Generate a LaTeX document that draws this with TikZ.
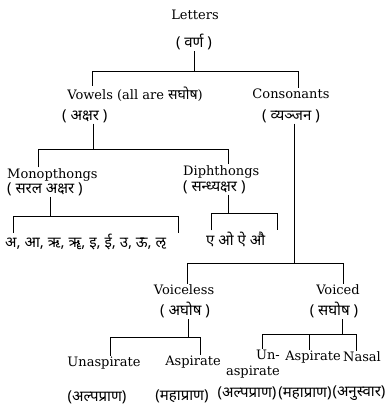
\documentclass[tikz,border=0pt]{standalone}
\usepackage{fontspec}
\setmainfont{DejaVu Serif}
\newfontfamily\dev[Script=Devanagari]{Noto Sans}
\tikzset{
  lbl/.style={inner sep=1pt, font=\fontsize{13}{16}\selectfont},
  hin/.style={inner sep=1pt, font=\fontsize{15}{17}\dev},
  hinlist/.style={inner sep=1pt, font=\fontsize{15}{17}\dev},
  tree/.style={line width=1pt}
}

\begin{document}
\begin{tikzpicture}[x=1pt,y=-1pt]
            \useasboundingbox (0,0) rectangle (389,408);

            % Top: letters
            \node[lbl] (letters) at (195,15) {Letters};
            \node[hin] (varna) at (194,42) {( वर्ण )};

            % Vowels and consonants
            \node[lbl] (vowels) at (135,94) {Vowels (all are {\dev\fontsize{14}{16}\selectfont सघोष})};
            \node[hin, anchor=west] (akshar) at (61,116) {( अक्षर )};
            \node[lbl] (consonants) at (291,94) {Consonants};
            \node[hin] (vyanjan) at (291,116) {( व्यञ्जन )};

            % Monopthongs and diphthongs
            \node[lbl, anchor=west] (mono) at (6,175) {Monopthongs};
            \node[hin, anchor=west] (saral) at (6,189) {( सरल अक्षर )};
            \node[lbl, anchor=west] (diph) at (182,172) {Diphthongs};
            \node[hin, anchor=west] (sandhy) at (182,187) {( सन्ध्यक्षर )};
            \node[hinlist, anchor=west] (monolist) at (4,242) {अ, आ, ऋ, ॠ, इ, ई, उ, ऊ, ऌ};
            \node[hinlist, anchor=west] (diphlist) at (205,239) {ए ओ ऐ औ};

            % Voiceless and voiced
            \node[lbl] (voiceless) at (184,290) {Voiceless};
            \node[hin] (aghosh) at (185,310) {( अघोष )};
            \node[lbl] (voiced) at (338,290) {Voiced};
            \node[hin] (saghosh) at (334,310) {( सघोष )};

            % Last row
            \node[lbl] (unasp) at (104,363) {Unaspirate};
            \node[lbl] (asp) at (193,362) {Aspirate};
            \node[lbl, align=right, anchor=north east] (unasp2) at (281,349) {Un-\\aspirate};
            \node[lbl] (asp2) at (313,357) {Aspirate};
            \node[lbl] (nasal) at (362,357) {Nasal};
            \node[hin] (alpa1) at (97,397) {(अल्पप्राण)};
            \node[hin] (maha1) at (182,396) {(महाप्राण)};
            \node[hin] (alpa2) at (247,393) {(अल्पप्राण)};
            \node[hin] (maha2) at (305,393) {(महाप्राण)};
            \node[hin] (anus) at (359,393) {(अनुस्वार)};

            % Bars
            \coordinate (bar1l) at (92,71);
            \coordinate (bar1r) at (298,71);
            \coordinate (bar2m) at (93,149);
            \coordinate (bar2l) at (38,149);
            \coordinate (bar2r) at (228,149);
            \coordinate (bar3m) at (294,263);
            \coordinate (bar3l) at (187,263);
            \coordinate (bar3r) at (343,263);
            \coordinate (bar4m) at (50,216);
            \coordinate (bar4l) at (13,216);
            \coordinate (bar4r) at (178,216);
            \coordinate (bar5m) at (228,213);
            \coordinate (bar5l) at (211,213);
            \coordinate (bar5r) at (277,213);
            \coordinate (bar6m) at (188,337);
            \coordinate (bar6l) at (110,337);
            \coordinate (bar6r) at (200,337);
            \coordinate (bar7m) at (342,334);
            \coordinate (bar7l) at (262,334);
            \coordinate (bar7c) at (309,334);
            \coordinate (bar7r) at (356,334);

            % Connectors
            \draw[tree] (varna.south) -- (varna.south |- bar1l);
            \draw[tree] (bar1l |- vowels.north) -- (bar1l) -- (bar1r) -- (bar1r |- consonants.north);

            \draw[tree] (bar2m |- akshar.south) -- (bar2m);
            \draw[tree] (bar2l |- mono.north) -- (bar2l) -- (bar2r) -- (bar2r |- diph.north);

            \draw[tree] (bar3m |- vyanjan.south) -- (bar3m);
            \draw[tree] (bar3l |- voiceless.north) -- (bar3l) -- (bar3r) -- (bar3r |- voiced.north);

            \draw[tree] (bar4m |- saral.south) -- (bar4m);
            \draw[tree] (bar4l |- monolist.north) -- (bar4l) -- (bar4r) -- (bar4r |- monolist.north);

            \draw[tree] (bar5m |- sandhy.south) -- (bar5m);
            \draw[tree] (bar5l |- diphlist.north) -- (bar5l) -- (bar5r) -- (bar5r |- diphlist.north);

            \draw[tree] (bar6m |- aghosh.south) -- (bar6m);
            \draw[tree] (bar6l |- unasp.north) -- (bar6l) -- (bar6r) -- (bar6r |- asp.north);

            \draw[tree] (bar7m |- saghosh.south) -- (bar7m);
            \draw[tree] (bar7l |- unasp2.north) -- (bar7l) -- (bar7r) -- (bar7r |- nasal.north);
            \draw[tree] (bar7c) -- (bar7c |- asp2.north);
        \end{tikzpicture}
\end{document}
